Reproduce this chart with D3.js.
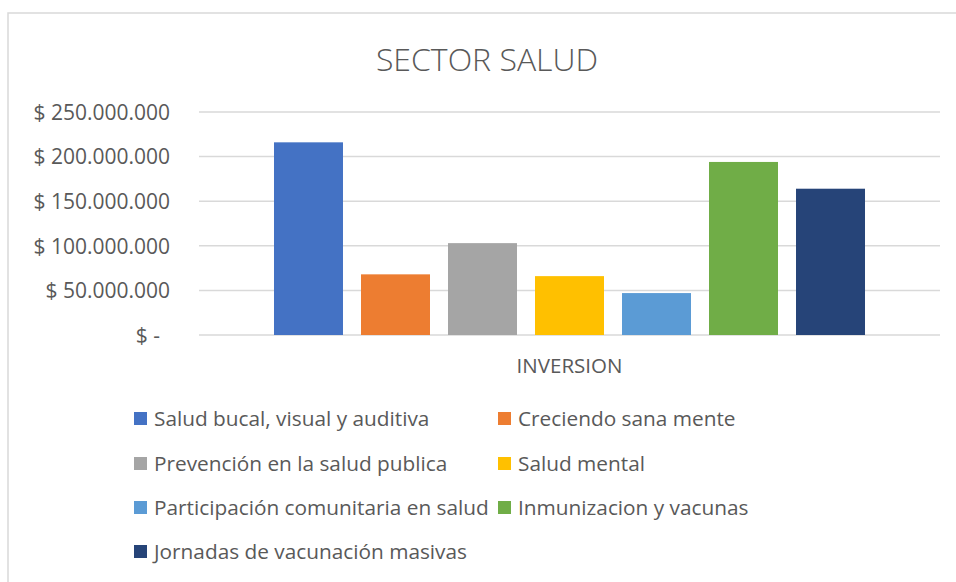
<!DOCTYPE html>
<html>
<head>
<meta charset="utf-8">
<script src="https://cdn.jsdelivr.net/npm/d3@7"></script>
<style>
  body { margin: 0; background: #fff; }
  text { font-family: "Open Sans", sans-serif; fill: #595959; }
</style>
</head>
<body>
<script>
// dimensions
var width = 956;
var height = 582;

// data
var categories = ["INVERSION"];
var series = [
    "Salud bucal, visual y auditiva",
    "Creciendo sana mente",
    "Prevención en la salud publica",
    "Salud mental",
    "Participación comunitaria en salud",
    "Inmunizacion y vacunas",
    "Jornadas de vacunación masivas"
];
var values = [216000000, 68000000, 103000000, 66000000, 47000000, 194000000, 164000000];
var colours = ["#4472C4", "#ED7D31", "#A5A5A5", "#FFC000", "#5B9BD5", "#70AD47", "#264478"];
var yTicks = [0, 50000000, 100000000, 150000000, 200000000, 250000000];

var plot = { left: 199, right: 940, top: 112, bottom: 335 };

var svg = d3.select("body")
    .append("svg")
    .attr("width", width)
    .attr("height", height);

// chart area border (runs off the right and bottom of the picture)
svg.append("rect")
    .attr("x", 8)
    .attr("y", 13)
    .attr("width", 1000)
    .attr("height", 700)
    .attr("fill", "none")
    .attr("stroke", "#d9d9d9")
    .attr("stroke-width", 1.5);

// title
svg.append("text")
    .attr("x", 487)
    .attr("y", 71)
    .attr("text-anchor", "middle")
    .style("font-size", "32px")
    .style("font-weight", 300)
    .text("SECTOR SALUD");

// scales
var y = d3.scaleLinear()
    .domain([0, 250000000])
    .range([plot.bottom, plot.top]);

var x0 = d3.scaleBand()
    .domain(categories)
    .range([plot.left, plot.right]);

var x1 = d3.scaleBand()
    .domain(series)
    .range([0, x0.bandwidth()])
    .paddingInner(0.207)
    .paddingOuter(0.862);

// money format like 250.000.000
function money(d) {
    if (d === 0) return "$ -";
    return "$ " + d3.format(",")(d).replace(/,/g, ".");
}

// gridlines
svg.append("g")
    .selectAll("line")
    .data(yTicks)
    .enter()
    .append("line")
    .attr("x1", plot.left)
    .attr("x2", plot.right)
    .attr("y1", function(d) { return y(d); })
    .attr("y2", function(d) { return y(d); })
    .attr("stroke", "#d9d9d9")
    .attr("stroke-width", 1.5);

// y axis labels
var yAxis = svg.append("g")
    .attr("transform", "translate(170,0)")
    .call(d3.axisLeft(y).tickValues(yTicks).tickFormat(money).tickSize(0).tickPadding(0));
yAxis.select(".domain").remove();
yAxis.selectAll("text")
    .style("font-size", "21px")
    .attr("fill", "#595959")
    .attr("dy", "0.35em")
    .attr("dx", function(d) { return d === 0 ? -10 : 0; });

// bars
svg.append("g")
    .selectAll("rect")
    .data(series)
    .enter()
    .append("rect")
    .attr("x", function(d) { return x0(categories[0]) + x1(d); })
    .attr("y", function(d, i) { return y(values[i]); })
    .attr("width", x1.bandwidth())
    .attr("height", function(d, i) { return y(0) - y(values[i]); })
    .attr("fill", function(d, i) { return colours[i]; });

// category label
var xAxis = svg.append("g")
    .attr("transform", "translate(0," + plot.bottom + ")")
    .call(d3.axisBottom(x0).tickSize(0).tickPadding(0));
xAxis.select(".domain").remove();
xAxis.selectAll("text")
    .style("font-size", "20.5px")
    .attr("fill", "#595959")
    .attr("dy", "1.85em");

// legend
var legendCols = [134, 498];
var legendRows = [419, 464, 508, 552];
var legend = svg.append("g")
    .selectAll("g")
    .data(series)
    .enter()
    .append("g")
    .attr("transform", function(d, i) {
        return "translate(" + legendCols[i % 2] + "," + legendRows[Math.floor(i / 2)] + ")";
    });

legend.append("rect")
    .attr("x", 0)
    .attr("y", -7)
    .attr("width", 13)
    .attr("height", 13)
    .attr("fill", function(d, i) { return colours[i]; });

legend.append("text")
    .attr("x", 20)
    .attr("dy", "0.35em")
    .style("font-size", "20.8px")
    .text(function(d) { return d; });
</script>
</body>
</html>
